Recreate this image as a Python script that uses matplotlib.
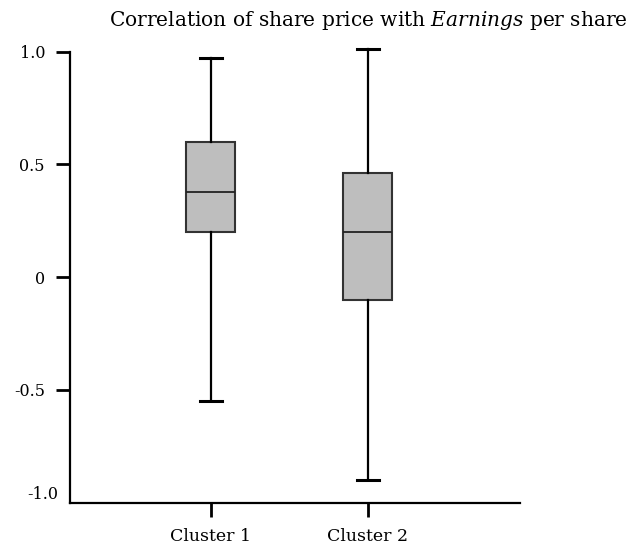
import matplotlib
matplotlib.use("Agg")
import matplotlib.pyplot as plt

# five-number summaries
clusters = ["Cluster 1", "Cluster 2"]
whisker_low = [-0.55, -0.90]
q1 = [0.20, -0.10]
median = [0.38, 0.20]
q3 = [0.60, 0.46]
whisker_high = [0.97, 1.01]

yticks = [1.0, 0.5, 0.0, -0.5]
ytick_labels = ["1.0", "0.5", "0", "-0.5"]

plt.rcParams['font.family'] = ['DejaVu Serif']
plt.rcParams['mathtext.fontset'] = 'dejavuserif'

fig = plt.figure(figsize=(6.32, 5.48), dpi=100)
ax = fig.add_axes([70 / 632, 1 - 502.7 / 548, 450 / 632, (502.7 - 51.7) / 548])

stats = []
for i in range(len(clusters)):
    stats.append(dict(label=clusters[i], whislo=whisker_low[i], q1=q1[i],
                      med=median[i], q3=q3[i], whishi=whisker_high[i], fliers=[]))

parts = ax.bxp(stats, positions=[1, 2], widths=0.31, capwidths=0.14, patch_artist=True,
               boxprops=dict(facecolor='#bebebe', edgecolor='#333333', linewidth=1.5),
               medianprops=dict(color='#222222', linewidth=1.3),
               whiskerprops=dict(color='black', linewidth=1.6),
               capprops=dict(color='black', linewidth=2.2))
for key in parts:
    for art in parts[key]:
        art.set_clip_on(False)

ax.set_xlim(0.104, 2.97)
ax.set_ylim(-1.0, 1.0)

ax.spines['top'].set_visible(False)
ax.spines['right'].set_visible(False)
ax.spines['left'].set_linewidth(1.6)
ax.spines['bottom'].set_linewidth(1.6)

ax.set_yticks(yticks)
ax.set_yticklabels(ytick_labels)
ax.tick_params(axis='both', length=10, width=2, pad=8)
ax.tick_params(axis='y', labelsize=11.5)
ax.tick_params(axis='x', labelsize=12.5)
ax.set_xticks([1, 2])
ax.set_xticklabels(clusters)

# bottom label has no tick
ax.text(-0.025, 0.018, "-1.0", transform=ax.transAxes, ha='right', va='center', fontsize=11.5)

fig.text(368 / 632, 1 - 21 / 548, "Correlation of share price with $\\it{Earnings}$ per share",
         ha='center', va='center', fontsize=14.5)

fig.savefig("out.png", dpi=100)
